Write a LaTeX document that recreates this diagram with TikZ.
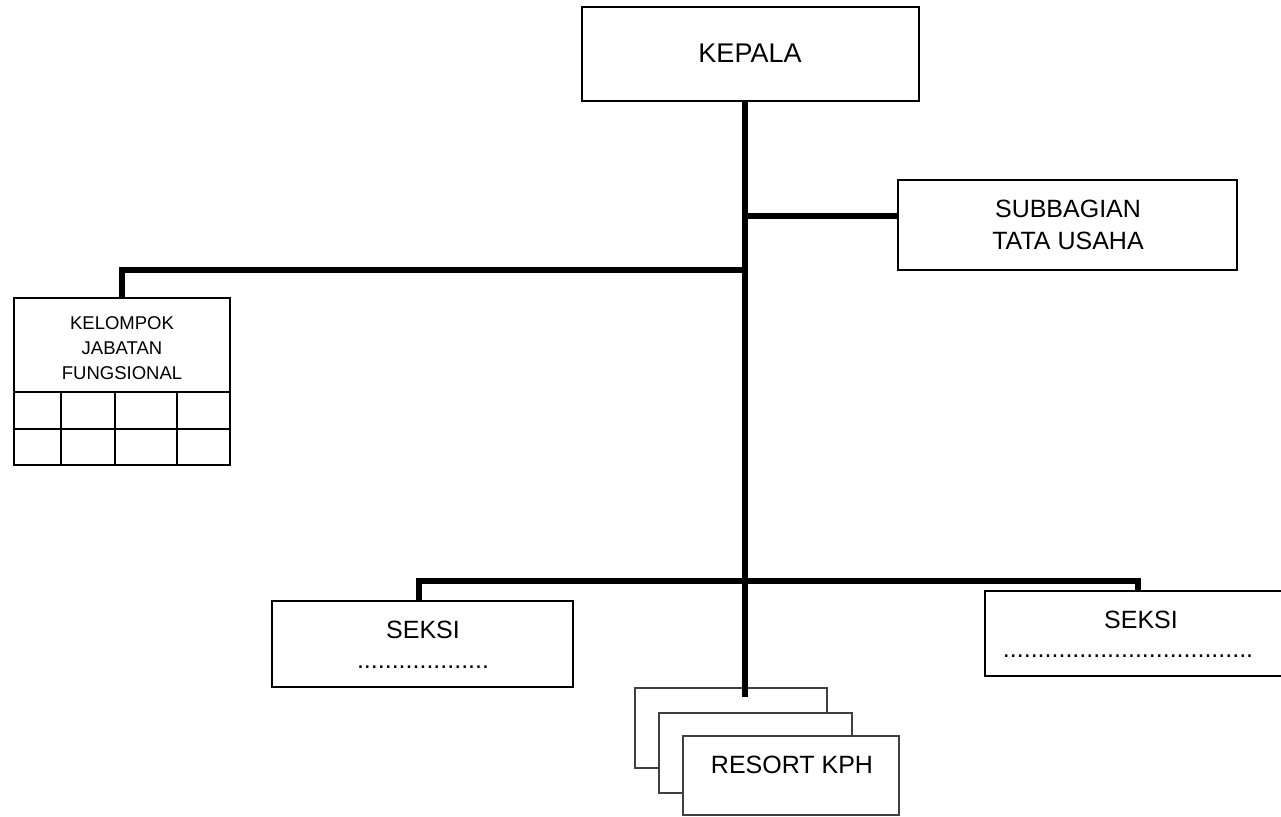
\documentclass[tikz,border=0pt]{standalone}
\usepackage{fontspec}
\setmainfont{Liberation Sans}
\usetikzlibrary{fit}
\begin{document}
\begin{tikzpicture}[x=1pt,y=-1pt,
  box/.style={draw,line width=2pt,inner sep=0pt,fill=white},
  rbox/.style={draw=black!75,line width=2pt,inner sep=0pt,fill=white},
  conn/.style={line width=6pt},
  thin/.style={line width=2pt},
  txt/.style={inner sep=0pt,font=\fontsize{25}{30}\selectfont},
  stxt/.style={inner sep=0pt,font=\fontsize{18.5}{22}\selectfont}]
\clip (0,0) rectangle (1281,816);
\fill[white] (0,0) rectangle (1281,816);
% KEPALA
\node[box,line width=2.7pt,fit={(582,7) (919,101)}] (kepala) {};
\node[txt,font=\fontsize{27}{32}\selectfont,anchor=base] (tkep) at (750,63) {KEPALA};
% SUBBAGIAN
\node[box,fit={(898,180) (1237,270)}] (sub) {};
\node[txt,anchor=base] (tsub1) at (1068,217) {SUBBAGIAN};
\node[txt,anchor=base] (tsub2) at (1068,249) {TATA USAHA};
% KJF
\node[box,fit={(14,298) (230,465)}] (kjf) {};
\coordinate (g1) at (14,392);
\coordinate (g2) at (230,392);
\coordinate (g3) at (14,429);
\coordinate (g4) at (230,429);
\draw[thin] (g1) -- (g2);
\draw[thin] (g3) -- (g4);
\coordinate (c1a) at (61,392); \coordinate (c1b) at (61,465);
\coordinate (c2a) at (115,392); \coordinate (c2b) at (115,465);
\coordinate (c3a) at (177,392); \coordinate (c3b) at (177,465);
\draw[thin] (c1a) -- (c1b);
\draw[thin] (c2a) -- (c2b);
\draw[thin] (c3a) -- (c3b);
\node[stxt,anchor=base] (tk1) at (122,329) {KELOMPOK};
\node[stxt,anchor=base] (tk2) at (122,354) {JABATAN};
\node[stxt,anchor=base] (tk3) at (122,379) {FUNGSIONAL};
% SEKSI boxes
\node[box,fit={(272,601) (573,687)}] (seksiL) {};
\node[txt,anchor=base] (tsl1) at (423,638) {SEKSI};
\node[txt,anchor=base] (tsl2) at (423,668) {...................};
\node[box,fit={(985,591) (1300,676)}] (seksiR) {};
\node[txt,anchor=base] (tsr1) at (1141,628) {SEKSI};
\node[txt,anchor=base] (tsr2) at (1128,657) {....................................};
% RESORT stack
\node[rbox,fit={(635,688) (827,768)}] (res1) {};
% connectors
\coordinate (trunkTop) at (745,101);
\coordinate (trunkEnd) at (745,697);
\coordinate (jSub) at (745,216);
\coordinate (jKjf) at (745,270);
\coordinate (kjfTurn) at (122,270);
\coordinate (kjfTop) at (122,298);
\coordinate (jLow) at (745,581);
\coordinate (lowL) at (419,581);
\coordinate (lowR) at (1138,581);
\draw[conn] (trunkTop) -- (trunkEnd);
\draw[conn] (jSub) -- (jSub -| sub.west);
\draw[conn,line join=miter] (jKjf) -- (kjfTurn) -- (kjfTop);
\draw[conn,line join=miter] (seksiL.north -| lowL) -- (lowL) -- (lowR) -- (seksiR.north -| lowR);
\node[rbox,fit={(659,713) (852,793)}] (res2) {};
\node[rbox,fit={(683,736) (899,815)}] (res3) {};
\node[txt,anchor=base] (tres) at (792,773) {RESORT KPH};
\end{tikzpicture}
\end{document}
